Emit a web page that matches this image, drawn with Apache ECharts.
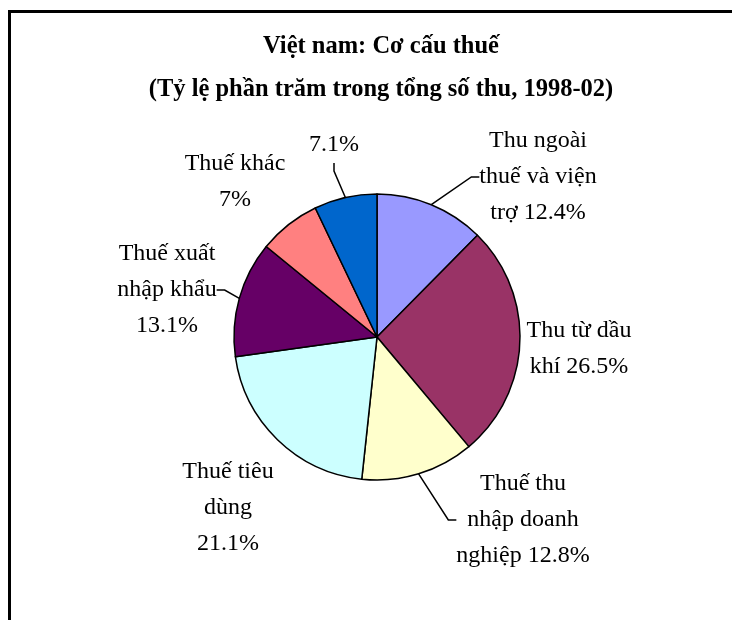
<!DOCTYPE html>
<html>
<head>
<meta charset="utf-8">
<script src="https://cdn.jsdelivr.net/npm/echarts@6/dist/echarts.min.js"></script>
<style>
  html, body { margin: 0; padding: 0; background: #fff; }
  #chart { width: 732px; height: 620px; }
</style>
</head>
<body>
<div id="chart"></div>
<script>
// categories, clockwise from 12 o'clock
const categories = [
  'Thu ngoài thuế và viện trợ',
  'Thu từ dầu khí',
  'Thuế thu nhập doanh nghiệp',
  'Thuế tiêu dùng',
  'Thuế xuất nhập khẩu',
  'Thuế khác',
  ''
]
const shares = [12.4, 26.5, 12.8, 21.1, 13.1, 7, 7.1]
// label text as wrapped in the original
const labelNames = [
  'Thu ngoài\nthuế và viện\ntrợ',
  'Thu từ dầu\nkhí',
  'Thuế thu\nnhập doanh\nnghiệp',
  'Thuế tiêu\ndùng\n',
  'Thuế xuất\nnhập khẩu\n',
  'Thuế khác\n',
  ''
]
const sliceColors = ['#9999FF', '#993366', '#FFFFCC', '#CCFFFF', '#660066', '#FF8080', '#0066CC']
const hasLeader = [true, false, true, false, true, false, true]

// where each label block sits (centre of the text block)
const labelAnchors = [[538, 177], [579, 349], [523, 520], [228, 508], [167, 290], [235, 182], [334, 145]]

const chart = echarts.init(document.getElementById('chart'))

const option = {
  animation: false,
  backgroundColor: '#ffffff',
  title: {
    text: 'Việt nam: Cơ cấu thuế\n(Tỷ lệ phần trăm trong tổng số thu, 1998-02)',
    left: 376,
    top: 20,
    textAlign: 'center',
    textStyle: {
      fontFamily: 'Liberation Serif',
      fontWeight: 'bold',
      fontSize: 24.5,
      lineHeight: 43,
      color: '#000'
    }
  },
  graphic: [
    {
      type: 'rect',
      shape: { x: 9.5, y: 11.5, width: 900, height: 900 },
      style: { fill: 'none', stroke: '#000', lineWidth: 3 },
      silent: true
    }
  ],
  series: [
    {
      type: 'pie',
      center: [377, 337],
      radius: 143,
      startAngle: 90,
      clockwise: true,
      avoidLabelOverlap: false,
      itemStyle: { borderColor: '#000', borderWidth: 1.5 },
      label: {
        show: true,
        position: 'outside',
        fontFamily: 'Liberation Serif',
        fontSize: 24,
        lineHeight: 36,
        color: '#000',
        formatter: (p) => {
          const name = labelNames[p.dataIndex]
          const sep = name === '' ? '' : (name.endsWith('\n') ? '' : ' ')
          return name + sep + p.value + '%'
        }
      },
      labelLine: {
        show: true,
        length: 10,
        length2: 8,
        smooth: false,
        lineStyle: { color: '#000', width: 1.5 }
      },
      labelLayout: (params) => {
        const a = labelAnchors[params.dataIndex]
        return { x: a[0], y: a[1], align: 'center', verticalAlign: 'middle' }
      },
      emphasis: { disabled: true },
      data: shares.map((v, i) => ({
        name: categories[i],
        value: v,
        itemStyle: { color: sliceColors[i] },
        labelLine: { show: hasLeader[i] }
      }))
    }
  ]
}

chart.setOption(option)
</script>
</body>
</html>
